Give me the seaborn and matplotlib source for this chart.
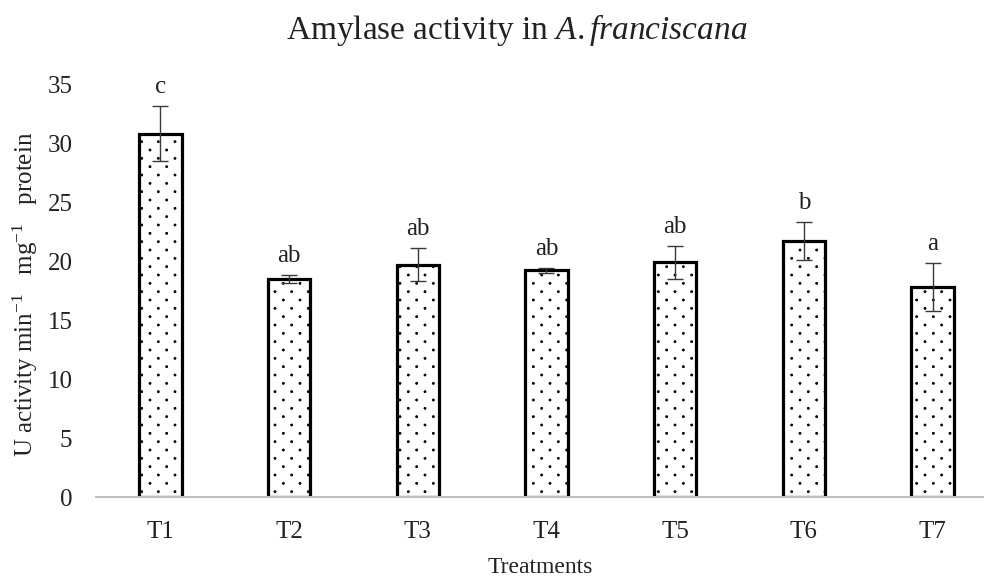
import matplotlib
matplotlib.use("Agg")
import matplotlib.pyplot as plt
import matplotlib.hatch as mhatch
from matplotlib.path import Path
import seaborn as sns
import numpy as np
import pandas as pd

# Amylase activity per treatment (mean ± SE) and significance groups
treatments = ["T1", "T2", "T3", "T4", "T5", "T6", "T7"]
activity = [30.8, 18.5, 19.7, 19.2, 19.9, 21.7, 17.8]
se = [2.3, 0.35, 1.4, 0.25, 1.4, 1.6, 2.0]
groups = ["c", "ab", "ab", "ab", "ab", "b", "a"]

df = pd.DataFrame({"Treatment": treatments, "Activity": activity})


class Stipple(mhatch.HatchPatternBase):
    """Fine staggered dots: rows sit twice as close as dots within a row."""
    size = 0.06

    def __init__(self, hatch, density):
        self.n = hatch.count(".") * density
        circle = Path.unit_circle()
        self.shape_vertices = circle.vertices
        self.shape_codes = circle.codes
        self.nrows = 2 * self.n
        if self.n:
            n_dots = sum(self.n + 1 if r % 2 == 0 else self.n
                         for r in range(self.nrows + 1))
        else:
            n_dots = 0
        self.num_vertices = n_dots * len(self.shape_vertices)

    def set_vertices_and_codes(self, vertices, codes):
        step = 1.0 / self.n
        dot = self.shape_vertices * step * self.size
        nv = len(dot)
        cursor = 0
        for r in range(self.nrows + 1):
            y = r * step / 2
            if r % 2 == 0:
                xs = np.linspace(0, 1, self.n + 1)
            else:
                xs = np.linspace(step / 2, 1 - step / 2, self.n)
            for xd in xs:
                vertices[cursor:cursor + nv] = dot + (xd, y)
                codes[cursor:cursor + nv] = self.shape_codes
                cursor += nv


mhatch._hatch_types = [Stipple if t is mhatch.SmallFilledCircles else t
                       for t in mhatch._hatch_types]

sns.set_theme(style="white")
plt.rcParams["font.family"] = ["Liberation Serif", "DejaVu Serif"]
plt.rcParams["mathtext.fontset"] = "custom"
plt.rcParams["mathtext.rm"] = "Liberation Serif"
plt.rcParams["mathtext.it"] = "Liberation Serif:italic"
plt.rcParams["hatch.color"] = "black"
plt.rcParams["hatch.linewidth"] = 0.6

fig = plt.figure(figsize=(9.84, 5.8), dpi=100)
ax = fig.add_axes([0.0976, 0.1431, 0.9024, 0.712])

sns.barplot(data=df, x="Treatment", y="Activity", ax=ax, color="white",
            width=0.33, errorbar=None, edgecolor="black", linewidth=2.3,
            saturation=1)
for p in ax.patches:
    p.set_hatch(".")
    p.set_facecolor("white")
    p.set_edgecolor("black")

x = np.arange(len(treatments))
ax.errorbar(x, activity, yerr=se, fmt="none", ecolor="#3a3a3a",
            elinewidth=1.0, capsize=5.5, capthick=1.0, zorder=5)

for xi, m, s, g in zip(x, activity, se, groups):
    ax.text(xi, m + s + 1.1, g, ha="center", va="baseline", fontsize=18,
            color="#222222")

ax.set_ylim(0, 35)
ax.set_xlim(-0.5, 6.4)
ax.set_yticks(range(0, 36, 5))
ax.tick_params(axis="both", length=0, labelsize=18, colors="#222222")
ax.tick_params(axis="y", pad=17)
ax.tick_params(axis="x", pad=17)

for side in ["top", "right", "left"]:
    ax.spines[side].set_visible(False)
ax.spines["bottom"].set_color("#bfbfbf")
ax.spines["bottom"].set_linewidth(1.5)

ax.set_xlabel("Treatments", fontsize=17, color="#222222", labelpad=10)
ax.set_ylabel(r"U activity min$^{-1}$   mg$^{-1}$   protein",
              fontsize=18, color="#222222")
ax.yaxis.set_label_coords(-0.063, 0.49)
fig.suptitle(r"Amylase activity in $\mathit{A.franciscana}$", fontsize=24,
             color="#222222", x=0.525, y=0.98)

fig.savefig("out.png", dpi=100)
